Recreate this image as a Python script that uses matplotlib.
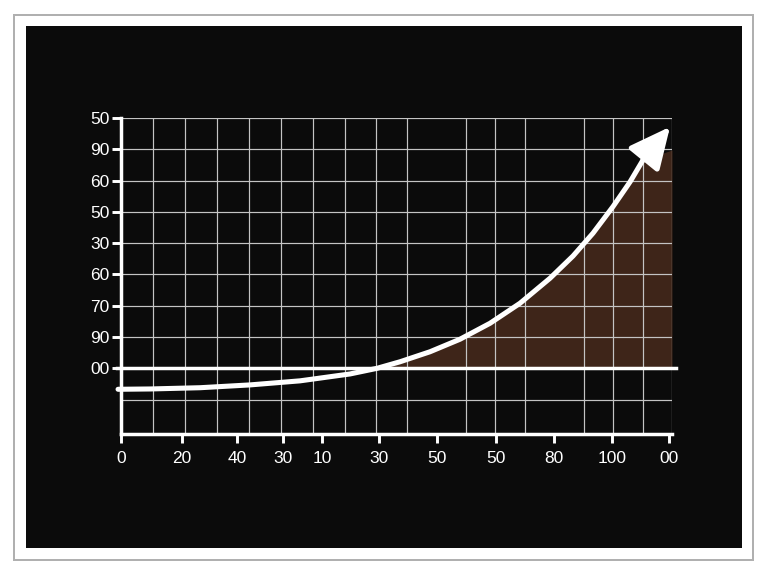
import matplotlib
matplotlib.use("Agg")
import matplotlib.pyplot as plt
from matplotlib.patches import Rectangle

# curve (x: 0..100 across the plot, y: grid rows, 0 = baseline)
curve_x = [-0.54, 5.26, 14.34, 23.41, 32.49, 41.56, 46.46, 50.64, 56.08, 61.52,
           66.97, 72.41, 77.86, 82.03, 85.66, 89.29, 92.38, 94.74, 99.64]
curve_y = [-0.67, -0.66, -0.62, -0.53, -0.40, -0.18, 0.00, 0.21, 0.53, 0.93,
           1.44, 2.08, 2.88, 3.59, 4.32, 5.17, 5.96, 6.66, 7.72]

# shaded area above the baseline
fill_x = [46.46, 50.64, 56.08, 61.52, 66.97, 72.41, 77.86, 82.03, 85.66, 89.29, 92.38, 94.74, 100.0]
fill_y = [0.00, 0.21, 0.53, 0.93, 1.44, 2.08, 2.88, 3.59, 4.32, 5.17, 5.96, 6.66, 6.98]

# tick labels (as printed on the chart)
xtick_pos = [0, 11.07, 21.05, 29.40, 36.48, 46.82, 57.35, 68.06, 78.58, 89.11, 99.46]
xtick_labels = ['0', '20', '40', '30', '10', '30', '50', '50', '80', '100', '00']
ytick_pos = [0, 1, 2, 3, 4, 5, 6, 7, 8]
ytick_labels = ['00', '90', '70', '60', '30', '50', '60', '90', '50']

# grid columns (not aligned with the x ticks)
grid_x = [0, 5.81, 11.62, 17.42, 23.23, 29.04, 34.85, 40.65, 46.28, 51.91,
          57.35, 62.61, 67.88, 73.32, 78.58, 84.03, 89.29, 94.74, 100]

fig = plt.figure(figsize=(8, 6), dpi=96, facecolor='white')

# card + black panel (behind the axes)
fig.patches.append(Rectangle((0.0182, 0.0278), 0.962, 0.946, transform=fig.transFigure,
                             facecolor='white', edgecolor='#b0b0b0', linewidth=1.5, zorder=-2))
fig.patches.append(Rectangle((0.0339, 0.0486), 0.932, 0.906, transform=fig.transFigure,
                             facecolor='#0b0b0b', edgecolor='none', zorder=-1))

ax = fig.add_axes([0.1576, 0.2465, 0.7174, 0.5485])
ax.set_zorder(2)
ax.patch.set_alpha(0)

ax.set_xlim(0, 100)
ax.set_ylim(-2.1, 8)

ax.fill_between(fill_x, 0, fill_y, color='#3e2519', linewidth=0, zorder=1)

lbl_font = dict(fontsize=13, family='Liberation Sans', color='white')
ax.set_xticks(grid_x, minor=True)
ax.set_yticks([-1], minor=True)
ax.set_xticks(xtick_pos)
ax.set_xticklabels(xtick_labels, **lbl_font)
ax.set_yticks(ytick_pos)
ax.set_yticklabels(ytick_labels, **lbl_font)

ax.grid(False)
ax.xaxis.grid(True, which='minor', color='#c4c4c4', linewidth=0.9)
ax.yaxis.grid(True, which='major', color='#c4c4c4', linewidth=0.9)
ax.yaxis.grid(True, which='minor', color='#c4c4c4', linewidth=0.9)

for s in ['top', 'right']:
    ax.spines[s].set_visible(False)
for s in ['left', 'bottom']:
    ax.spines[s].set_color('white')
    ax.spines[s].set_linewidth(2.6)
    ax.spines[s].set_zorder(3)

ax.tick_params(axis='both', which='major', color='white', length=7, width=2.2)
ax.tick_params(axis='x', which='major', pad=5.5)
ax.tick_params(axis='y', which='major', pad=1.5)
ax.tick_params(which='minor', length=0)

# baseline
ax.axhline(0, xmin=-0.007, xmax=1.007, color='white', linewidth=2.6, zorder=3, clip_on=False)

# the growth curve and arrow head
ax.plot(curve_x[:-1], curve_y[:-1], color='white', linewidth=3.8, solid_capstyle='round',
        solid_joinstyle='round', zorder=4, clip_on=False)
ax.annotate('', xy=(curve_x[-1], curve_y[-1]), xytext=(curve_x[-2], curve_y[-2]),
            arrowprops=dict(arrowstyle='-|>,head_length=1.05,head_width=0.5', mutation_scale=25,
                            color='white', linewidth=3.8, shrinkA=0, shrinkB=0),
            zorder=5, annotation_clip=False)

fig.savefig('out.png', dpi=96, facecolor='white')
